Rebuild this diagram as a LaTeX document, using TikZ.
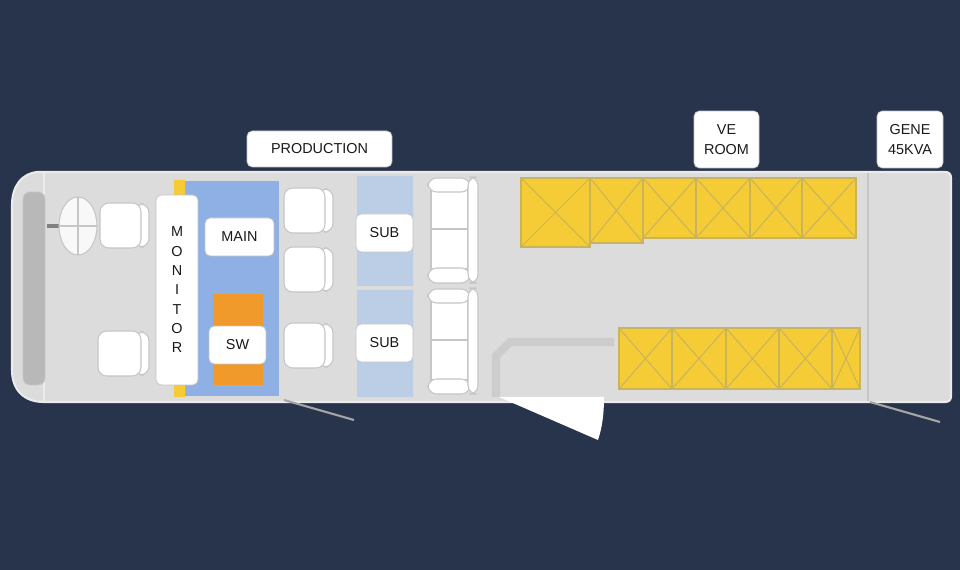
\documentclass[tikz,border=0pt]{standalone}
\usepackage{fontspec}
\setmainfont{Liberation Sans}
\usetikzlibrary{positioning, shapes.geometric}
\definecolor{bgnavy}{HTML}{27344B}
\definecolor{floorgrey}{HTML}{DCDCDC}
\definecolor{edgegrey}{HTML}{C4C6C8}
\definecolor{prodblue}{HTML}{8FB0E4}
\definecolor{subblue}{HTML}{BCCDE6}
\definecolor{rackyellow}{HTML}{F6CC36}
\definecolor{rackline}{HTML}{C9B45C}
\definecolor{deskorange}{HTML}{F09A2B}
\begin{document}
\begin{tikzpicture}[x=0.02cm, y=-0.02cm,
      tag/.style={rectangle, fill=white, draw=edgegrey, line width=0.4pt, rounded corners=3pt, inner sep=0pt, align=center, font=\fontsize{8.2}{11}\selectfont, text=black!90},
      seatpad/.style={fill=white, draw=edgegrey, line width=0.6pt, rounded corners=5pt},
      rack/.style={fill=rackyellow, draw=rackline, line width=0.6pt}]
      \useasboundingbox (0,0) rectangle (960,570);
      \fill[bgnavy] (0,0) rectangle (960,570);

      % Bus body
      \draw[fill=floorgrey, draw=white!92!black, line width=1.2pt] (44,172) -- (38,172) .. controls (22,173) and (12,186) .. (12,205) -- (12,370) .. controls (12,390) and (24,402) .. (44,402) -- (945,402) .. controls (949,402) and (951,400) .. (951,396) -- (951,178) .. controls (951,174) and (949,172) .. (945,172) -- cycle;
      \draw[white!92!black, line width=0.8pt] (44,172) -- (44,402);
      \draw[edgegrey, line width=1.2pt] (868,173) -- (868,401);

      % Dashboard and wheel
      \draw[fill=black!28, draw=edgegrey, line width=0.5pt, rounded corners=4pt] (23,192) rectangle (45,385);
      \fill[black!50] (47,224) rectangle (62,228);
      \draw[fill=white!80!floorgrey, draw=edgegrey, line width=0.6pt] (78,226) ellipse [x radius=19, y radius=29];
      \draw[edgegrey, line width=0.6pt] (59,226) -- (97,226) (78,197) -- (78,255);

      % Production area
      \fill[prodblue] (185,181) rectangle (279,396);
      \fill[rackyellow] (174,180) rectangle (185,195) (174,385) rectangle (185,397);
      \fill[deskorange] (213,294) rectangle (263,385);
      \fill[subblue] (357,176) rectangle (413,286) (357,290) rectangle (413,397);

      % Seats
      \foreach \x/\y/\w in {100/203/49, 98/331/51, 284/188/49, 284/247/49, 284/323/49} {
        \draw[seatpad] (\x+\w-14,\y+1) rectangle (\x+\w,\y+44);
        \draw[seatpad] (\x,\y) rectangle (\x+\w-8,\y+45);
      }

      % Sofas
      \foreach \y in {177, 288} {
        \draw[fill=white, draw=edgegrey, line width=0.6pt] (431,\y+12) rectangle (468,\y+92);
        \draw[edgegrey, line width=0.6pt] (431,\y+52) -- (468,\y+52);
        \draw[seatpad] (428,\y+1) rectangle (470,\y+15);
        \draw[seatpad] (428,\y+91) rectangle (470,\y+106);
        \draw[seatpad] (468,\y) rectangle (478,\y+106);
      }

      % Racks
      \foreach \xa/\xb/\ya/\yb in {521/590/178/247, 590/643/178/243, 643/696/178/238, 696/750/178/238, 750/802/178/238, 802/856/178/238, 619/672/328/389, 672/726/328/389, 726/779/328/389, 779/832/328/389, 832/860/328/389} {
        \draw[rack] (\xa,\ya) rectangle (\xb,\yb);
        \draw[rackline, line width=0.6pt] (\xa,\ya) -- (\xb,\yb) (\xa,\yb) -- (\xb,\ya);
      }

      % Partition and door
      \draw[black!20, line width=4.6pt] (614,342) -- (510,342) -- (496,356) -- (496,397);
      \fill[white] (499,397) -- (604,397) .. controls (604,415) and (602,428) .. (598,440) -- cycle;

      % Steps
      \draw[black!35, line width=1.2pt] (284,400) -- (354,420);
      \draw[black!35, line width=1.2pt] (870,402) -- (940,422);

      % Labels
      \node[tag, minimum width=2.9cm, minimum height=0.72cm] (production) at (319.5,149) {PRODUCTION};
      \node[tag, minimum width=1.3cm, minimum height=1.14cm] (veroom) at (726.5,139.5) {VE\\ROOM};
      \node[tag, minimum width=1.32cm, minimum height=1.14cm] (gene) at (910,139.5) {GENE\\45KVA};
      \node[tag, minimum width=0.84cm, minimum height=3.8cm] (monitor) at (177,290) {M\\O\\N\\I\\T\\O\\R};
      \node[tag, minimum width=1.38cm, minimum height=0.76cm] (main) at (239.5,237) {MAIN};
      \node[tag, minimum width=1.14cm, minimum height=0.76cm] (sw) at (237.5,345) {SW};
      \node[tag, minimum width=1.14cm, minimum height=0.76cm] (subtop) at (384.5,233) {SUB};
      \node[tag, minimum width=1.14cm, minimum height=0.76cm] (subbottom) at (384.5,343) {SUB};
    \end{tikzpicture}
\end{document}
